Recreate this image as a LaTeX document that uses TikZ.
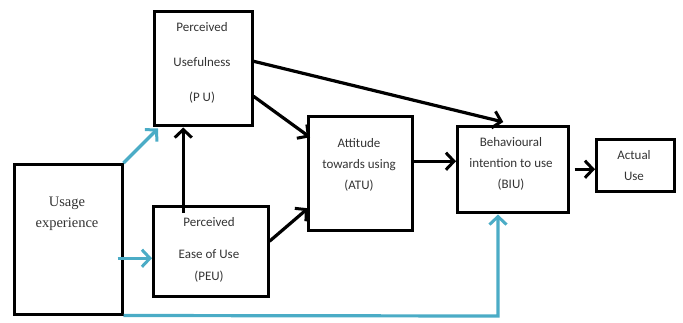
\documentclass[tikz,border=0pt]{standalone}
\usepackage{fontspec}
\setmainfont{Carlito}
\newfontfamily\timesfont{Liberation Serif}
\usetikzlibrary{arrows.meta}
\definecolor{aqua}{RGB}{75,172,198}
\begin{document}
\begin{tikzpicture}[x=1pt,y=-1pt,
  box/.style={draw=black,line width=2.5pt,inner sep=0pt,anchor=north west},
  txt/.style={inner sep=0pt,align=center,text=black!80,font=\fontsize{13}{21}\selectfont},
  arr/.style={line width=3.2pt,-{Straight Barb[length=8pt,width=17pt,line width=3pt]}},
  barr/.style={arr,draw=aqua}]
\useasboundingbox (0,0) rectangle (683,322);
% boxes
\node[box,minimum width=108pt,minimum height=150pt] (usage) at (13,163) {};
\node[box,minimum width=98pt,minimum height=114pt] (pu) at (153,10) {};
\node[box,minimum width=115pt,minimum height=90pt] (peu) at (152,205) {};
\node[box,minimum width=104pt,minimum height=114pt] (atu) at (307,115) {};
\node[box,minimum width=111pt,minimum height=86pt] (biu) at (456,125) {};
\node[box,minimum width=78pt,minimum height=52pt] (act) at (595,138) {};
% texts
\node[txt] (pu1) at (202,27) {Perceived};
\node[txt] (pu2) at (202,62) {Usefulness};
\node[txt] (pu3) at (202,98) {(P U)};
\node[txt] (peu1) at (209,222) {Perceived};
\node[txt] (peu2) at (209,254) {Ease of Use};
\node[txt] (peu3) at (209,277) {(PEU)};
\node[txt] (atut) at (359,164.5) {Attitude\\towards using\\(ATU)};
\node[txt] (biut) at (511,163.5) {Behavioural\\intention to use\\(BIU)};
\node[txt] (actt) at (634,166) {Actual\\Use};
\node[txt,font=\timesfont\fontsize{14.5}{21}\selectfont] (usaget) at (67,213.5) {Usage\\experience};
% black connectors
\draw[arr] ([yshift=7pt]pu.east) -- ([xshift=-9.5pt,yshift=3pt]biu.north);
\draw[arr] ([yshift=-28pt]pu.east) -- ([xshift=3pt,yshift=36pt]atu.west);
\draw[arr] ([yshift=10pt]peu.east) -- ([xshift=1pt,yshift=-35pt]atu.west);
\coordinate (peuout) at ([xshift=-27.5pt,yshift=-8pt]peu.north);
\draw[arr] (peuout) -- ([yshift=-1pt]peuout |- pu.south);
\draw[arr] ([yshift=12pt]atu.east) -- ([yshift=12pt]atu.east -| biu.west);
\draw[arr,shorten <=5pt] (biu.east) -- (biu.east -| act.west);
% blue connectors
\draw[barr] (usage.north east) -- ([xshift=5pt,yshift=-2pt]pu.south west);
\draw[barr] ([xshift=-6pt,yshift=-19pt]usage.east) -- ([yshift=-19pt]usage.east -| peu.west);
\coordinate (corner) at (498,316);
\draw[barr] (usage.south east) -- (corner) -- ([yshift=-1pt]corner |- biu.south);
\end{tikzpicture}
\end{document}
